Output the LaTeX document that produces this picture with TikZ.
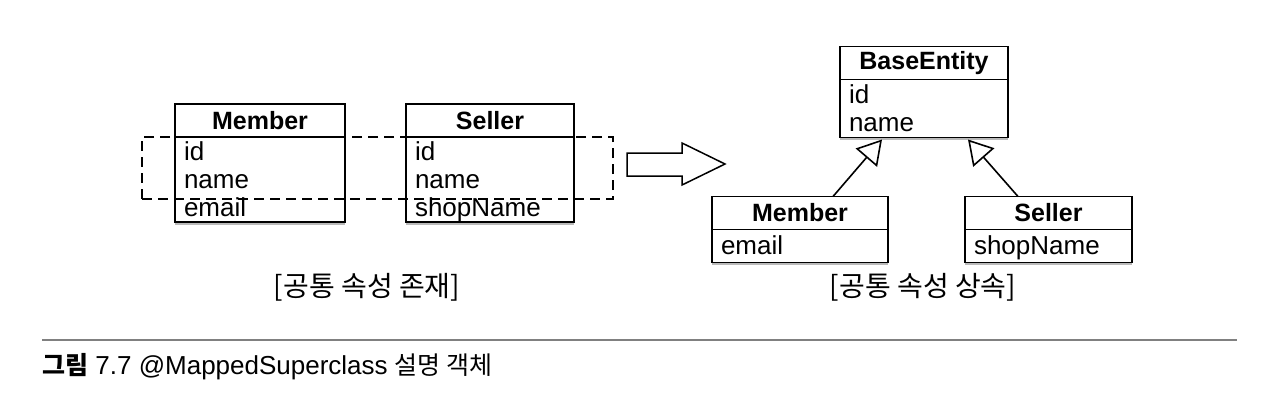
\documentclass[tikz,border=0pt]{standalone}
\usepackage{fontspec}
\setmainfont{Liberation Sans}
\newfontfamily\krfont{Noto Sans CJK KR}
\usetikzlibrary{positioning,arrows.meta,shadows}
\newcommand\rowstrut{\rule[-5.5pt]{0pt}{28pt}}
\tikzset{
    classhead/.style={
        rectangle,
        draw, line width=1.6pt,
        fill=white,
        outer sep=0pt, inner sep=0pt,
        minimum height=33pt,
        font={\fontsize{25}{30}\selectfont\bfseries}
    },
    classbody/.style={
        rectangle,
        draw, line width=1.6pt,
        fill=white,
        outer sep=0pt, inner xsep=9pt, inner ysep=0pt,
        text width=#1,
        align=left,
        font={\fontsize{26}{28}\selectfont},
        drop shadow={shadow xshift=0pt, shadow yshift=-2.5pt, fill=black!45, opacity=.6}
    },
    commonbox/.style={
        rectangle,
        draw, line width=1.5pt,
        dash pattern=on 10pt off 6pt,
        inner sep=0pt
    },
    inherit/.style={line width=1.6pt, -{Triangle[open, length=24pt, width=28pt]}},
    caplabel/.style={font={\krfont\fontsize{28}{32}\selectfont}},
}
\begin{document}
\begin{tikzpicture}[x=1pt, y=-1pt]
\useasboundingbox (0,0) rectangle (1264,413);
% common attributes in every class
\node[classhead, minimum width=170pt] (mh1) at (260,120.5) {Member};
\node[classbody=152pt, minimum height=85pt, below=0pt of mh1] (mb1) {id\rowstrut\\name\rowstrut\\email\rowstrut};
\node[classhead, minimum width=168pt] (sh1) at (490,120.5) {Seller};
\node[classbody=150pt, minimum height=85pt, below=0pt of sh1] (sb1) {id\rowstrut\\name\rowstrut\\shopName\rowstrut};
\node[commonbox, minimum width=471pt, minimum height=62pt] (common) at (377.5,168) {};
\node[caplabel] (leftcap) at (367,287) {[공통 속성 존재]};
% block arrow
\draw[line width=1.5pt] (627,153) -- (682,153) -- (682,143) -- (725,164)
    -- (682,185) -- (682,176) -- (627,176) -- cycle;
% inherited attributes
\node[classhead, minimum width=168pt] (beh) at (924,63) {BaseEntity};
\node[classbody=150pt, minimum height=58pt, below=0pt of beh] (beb) {id\rowstrut\\name\rowstrut};
\node[classhead, minimum width=176pt] (mh2) at (800,213) {Member};
\node[classbody=158pt, minimum height=33pt, below=0pt of mh2] (mb2) {email\rowstrut};
\node[classhead, minimum width=167pt] (sh2) at (1048.5,213) {Seller};
\node[classbody=149pt, minimum height=33pt, below=0pt of sh2] (sb2) {shopName\rowstrut};
\draw[inherit] ([xshift=121pt]mh2.north west) -- ([xshift=42pt, yshift=-2pt]beb.south west);
\draw[inherit] ([xshift=53pt]sh2.north west) -- ([xshift=-40pt, yshift=-2pt]beb.south east);
\node[caplabel] (rightcap) at (923,287) {[공통 속성 상속]};
% figure caption
\draw[black!50, line width=2pt] (42,340) -- (1237,340);
\node[anchor=west, inner sep=0pt, font={\fontsize{26}{30}\selectfont}] (caption) at (42,367)
    {{\krfont\fontsize{25}{30}\selectfont\bfseries 그림} 7.7 @MappedSuperclass {\krfont\fontsize{25}{30}\selectfont 설명 객체}};
\end{tikzpicture}
\end{document}
